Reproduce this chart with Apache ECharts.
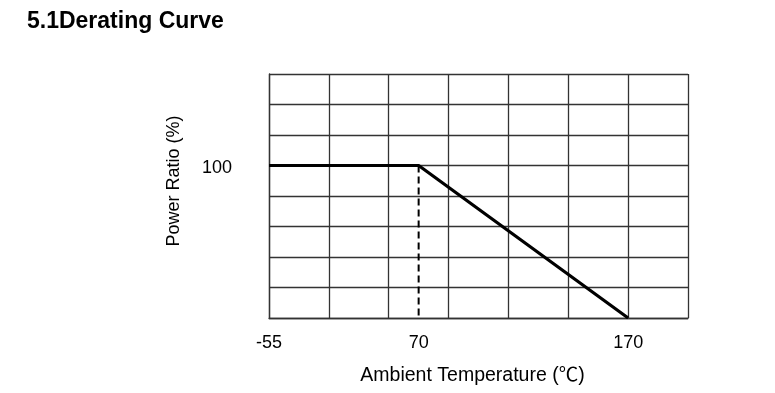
<!DOCTYPE html>
<html>
<head>
<meta charset="utf-8">
<script src="https://cdn.jsdelivr.net/npm/echarts@6/dist/echarts.min.js"></script>
<style>
html,body{margin:0;padding:0;background:#fff;}
#chart{width:775px;height:393px;}
</style>
</head>
<body>
<div id="chart"></div>
<script>
// Schematic temperature axis slots (each slot = half a grid column)
var tempSlots = ['-55','','','','','70','','','','','','','170','',''];
// Derating curve: [temperature, power ratio %]
var deratingTemps = ['-55', '70', '170'];
var deratingPower = [100, 100, 0];
// Dashed marker at knee
var kneeTemps = ['70', '70'];
var kneePower = [100, 0];
// Y tick labels shown
var yLabelsShown = [100];

var FONT = '"Liberation Sans", Arial, "Noto Sans CJK SC", sans-serif';
var chart = echarts.init(document.getElementById('chart'), null, {renderer: 'canvas'});
chart.setOption({
  animation: false,
  backgroundColor: '#fff',
  title: {
    text: '5.1Derating Curve',
    left: 22, top: 5,
    textStyle: {fontFamily: FONT, fontWeight: 'bold', fontSize: 23, color: '#000'}
  },
  grid: {left: 269, right: 87, top: 74, bottom: 75},
  xAxis: {
    type: 'category',
    data: tempSlots,
    boundaryGap: false,
    name: 'Ambient Temperature (℃)',
    nameLocation: 'middle',
    nameGap: 48,
    nameTextStyle: {fontFamily: '"Liberation Sans", "Noto Sans CJK SC", sans-serif', fontSize: 19.5, color: '#000', padding: [0, 12, 0, 0]},
    axisLine: {show: true, lineStyle: {color: '#333', width: 1.3}},
    axisTick: {show: false},
    axisLabel: {interval: 0, margin: 16, fontFamily: FONT, fontSize: 18, color: '#000'},
    splitLine: {show: true, interval: 1, lineStyle: {color: '#333', width: 1.3}}
  },
  yAxis: {
    type: 'value',
    min: 0, max: 160, interval: 20,
    name: 'Power Ratio (%)',
    nameLocation: 'middle',
    nameGap: 86,
    nameTextStyle: {fontFamily: FONT, fontSize: 18, color: '#000', padding: [0, 0, 0, 30]},
    axisLine: {show: true, lineStyle: {color: '#333', width: 1.3}},
    axisTick: {show: false},
    axisLabel: {
      margin: 37, fontFamily: FONT, fontSize: 18, color: '#000',
      verticalAlign: 'top', lineHeight: 6,
      formatter: function (v) { return yLabelsShown.indexOf(v) >= 0 ? String(v) : ''; }
    },
    splitLine: {show: true, lineStyle: {color: '#333', width: 1.3}}
  },
  series: [
    {
      type: 'line',
      data: deratingTemps.map(function (t, i) { return [t, deratingPower[i]]; }),
      symbol: 'none',
      lineStyle: {color: '#000', width: 3.2},
      z: 5
    },
    {
      type: 'line',
      data: kneeTemps.map(function (t, i) { return [t, kneePower[i]]; }),
      symbol: 'none',
      lineStyle: {color: '#000', width: 2, type: [7, 4]},
      z: 4
    }
  ]
});
</script>
</body>
</html>
